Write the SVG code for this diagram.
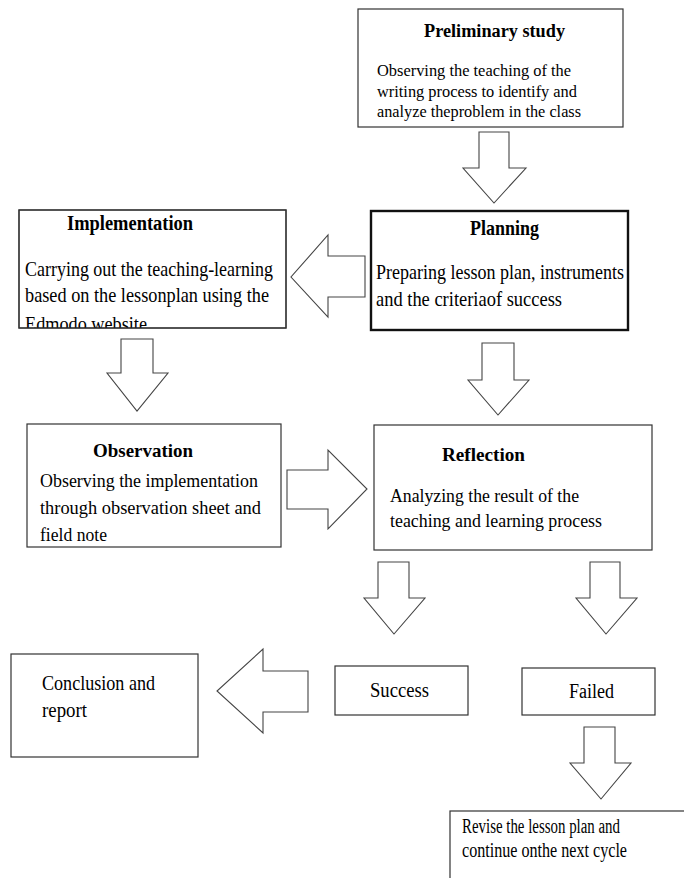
<svg xmlns="http://www.w3.org/2000/svg" width="684" height="878" viewBox="0 0 684 878">
<style>
.box{fill:#fff;stroke:#333;stroke-width:1.2}
.thick{fill:#fff;stroke:#111;stroke-width:2.4}
.arrow{fill:#fff;stroke:#444;stroke-width:1.1;stroke-linejoin:miter}
text{font-family:"Liberation Serif","Times New Roman",serif;fill:#000}
.t{font-weight:bold}
</style>
<defs>
<clipPath id="clipImpl"><rect x="19" y="210" width="267" height="118"/></clipPath>
</defs>
<rect width="684" height="878" fill="#fff"/>
<g id="connectors">
<polygon class="arrow" points="479,132 509,132 509,168 526,168 494,203 463,168 479,168"/>
<polygon class="arrow" points="365,256 328,256 328,235 291,277 328,317 328,297 365,297"/>
<polygon class="arrow" points="121,339 153,339 153,373 168,373 137,411 107,373 121,373"/>
<polygon class="arrow" points="482,343 514,343 514,380 529,380 498,415 468,380 482,380"/>
<polygon class="arrow" points="287,470 328,470 328,450 367,489 328,529 328,509 287,509"/>
<polygon class="arrow" points="378,562 409,562 409,598 425,598 394,634 364,598 378,598"/>
<polygon class="arrow" points="590,562 620,562 620,598 637,598 606,634 576,598 590,598"/>
<polygon class="arrow" points="308,671 263,671 263,649 217,691 263,733 263,712 308,712"/>
<polygon class="arrow" points="584,727 615,727 615,763 631,763 601,799 570,763 584,763"/>
</g>
<g id="preliminary">
<rect class="box" x="358" y="9" width="265" height="118"/>
<text class="t" x="424" y="37" font-size="18" textLength="141" lengthAdjust="spacingAndGlyphs">Preliminary study</text>
<text x="377" y="76" font-size="16.5" textLength="194" lengthAdjust="spacingAndGlyphs">Observing the teaching of the</text>
<text x="377" y="97" font-size="16.5" textLength="200" lengthAdjust="spacingAndGlyphs">writing process to identify and</text>
<text x="377" y="117" font-size="16.5" textLength="204" lengthAdjust="spacingAndGlyphs">analyze theproblem in the class</text>
</g>
<g id="implementation">
<rect class="box" x="19" y="210" width="267" height="118"/>
<text class="t" x="67" y="230" font-size="20" textLength="126" lengthAdjust="spacingAndGlyphs">Implementation</text>
<g clip-path="url(#clipImpl)">
<text x="25" y="276" font-size="21" textLength="248" lengthAdjust="spacingAndGlyphs">Carrying out the teaching-learning</text>
<text x="25" y="302" font-size="21" textLength="244" lengthAdjust="spacingAndGlyphs">based on the lessonplan using the</text>
<text x="25" y="331" font-size="21" textLength="122" lengthAdjust="spacingAndGlyphs">Edmodo website</text>
</g>
<rect x="19" y="210" width="267" height="118" fill="none" stroke="#333" stroke-width="1.2"/>
</g>
<g id="planning">
<rect class="thick" x="371" y="211" width="257" height="119"/>
<text class="t" x="470" y="235" font-size="21" textLength="69" lengthAdjust="spacingAndGlyphs">Planning</text>
<text x="376" y="279" font-size="21" textLength="248" lengthAdjust="spacingAndGlyphs">Preparing lesson plan, instruments</text>
<text x="376" y="306" font-size="21" textLength="186" lengthAdjust="spacingAndGlyphs">and the criteriaof success</text>
</g>
<g id="observation">
<rect class="box" x="27" y="424" width="254" height="123"/>
<text class="t" x="93" y="457" font-size="19" textLength="100" lengthAdjust="spacingAndGlyphs">Observation</text>
<text x="40" y="487" font-size="19" textLength="218" lengthAdjust="spacingAndGlyphs">Observing the implementation</text>
<text x="40" y="514" font-size="19" textLength="221" lengthAdjust="spacingAndGlyphs">through observation sheet and</text>
<text x="40" y="541" font-size="19" textLength="67" lengthAdjust="spacingAndGlyphs">field note</text>
</g>
<g id="reflection">
<rect class="box" x="374" y="425" width="278" height="125"/>
<text class="t" x="442" y="461" font-size="19" textLength="83" lengthAdjust="spacingAndGlyphs">Reflection</text>
<text x="390" y="502" font-size="18" textLength="189" lengthAdjust="spacingAndGlyphs">Analyzing the result of the</text>
<text x="390" y="527" font-size="18" textLength="212" lengthAdjust="spacingAndGlyphs">teaching and learning process</text>
</g>
<g id="success">
<rect class="box" x="335" y="666" width="133" height="49"/>
<text x="370" y="697" font-size="20" textLength="59" lengthAdjust="spacingAndGlyphs">Success</text>
</g>
<g id="failed">
<rect class="box" x="522" y="668" width="133" height="47"/>
<text x="569" y="698" font-size="20" textLength="45" lengthAdjust="spacingAndGlyphs">Failed</text>
</g>
<g id="conclusion">
<rect class="box" x="11" y="654" width="187" height="103"/>
<text x="42" y="690" font-size="21" textLength="113" lengthAdjust="spacingAndGlyphs">Conclusion and</text>
<text x="42" y="717" font-size="21" textLength="45" lengthAdjust="spacingAndGlyphs">report</text>
</g>
<g id="revise">
<rect class="box" x="450" y="811" width="240" height="80"/>
<text x="462" y="833" font-size="20" textLength="158" lengthAdjust="spacingAndGlyphs">Revise the lesson plan and</text>
<text x="462" y="857" font-size="20" textLength="165" lengthAdjust="spacingAndGlyphs">continue onthe next cycle</text>
</g>
</svg>
